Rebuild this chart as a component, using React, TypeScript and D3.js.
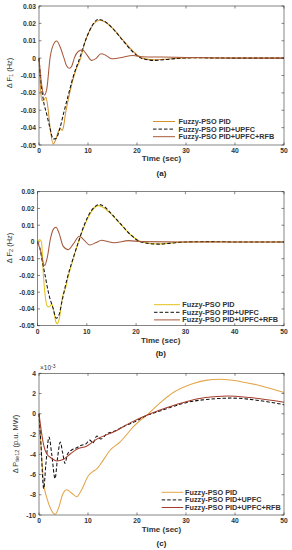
import React from 'react';
import * as d3 from 'd3';

type Pt = [number, number];

// time axis and tick labels
const xTicks = [0, 10, 20, 30, 40, 50];
const yTicksF = [0.03, 0.02, 0.01, 0, -0.01, -0.02, -0.03, -0.04, -0.05];
const yTicksP = [4, 2, 0, -2, -4, -6, -8, -10];
const legendNames = ['Fuzzy-PSO PID', 'Fuzzy-PSO PID+UPFC', 'Fuzzy-PSO PID+UPFC+RFB'];

// (a) delta F1 (Hz)
const pidA: Pt[] = [[0, 0], [0.25, -0.014], [0.55, -0.0244], [0.9, -0.0245], [1.4, -0.0225], [1.8, -0.028], [2.3, -0.041], [2.9, -0.0494], [3.4, -0.047], [3.9, -0.0425], [4.3, -0.0405], [4.7, -0.0415], [5.0, -0.0395], [5.4, -0.032], [6.0, -0.0235], [6.7, -0.0148], [7.5, -0.007], [8.5, 0], [9.3, 0.0085], [10.2, 0.015], [11.2, 0.0198], [12.4, 0.0218], [13.5, 0.0208], [15, 0.0172], [17, 0.0108], [19, 0.0045], [21, 0], [23.3, -0.001], [26, -0.0006], [28.5, 0], [32, 0.0002], [40, 0], [50, 0]];
const upfcA: Pt[] = [[0, 0], [0.3, -0.011], [0.9, -0.0244], [1.55, -0.032], [2.2, -0.0398], [2.9, -0.0465], [3.5, -0.0462], [4.2, -0.041], [5.0, -0.032], [6.0, -0.021], [7.0, -0.0105], [8.3, 0], [9.6, 0.011], [10.8, 0.0185], [12.1, 0.0223], [13.2, 0.0215], [15, 0.0172], [17, 0.0105], [19, 0.004], [21, -0.0002], [23.5, -0.0013], [26, -0.0008], [28.5, -0.0001], [32, 0.0002], [40, 0], [50, 0]];
const rfbA: Pt[] = [[0, 0], [0.4, -0.012], [1.1, -0.0212], [1.6, -0.0175], [2.25, 0], [2.9, 0.0075], [3.6, 0.0098], [4.3, 0.0065], [5.1, 0], [5.6, -0.0042], [6.2, -0.0058], [6.7, -0.0045], [7.2, 0], [8.0, 0.0038], [8.85, 0.0048], [9.7, 0.0022], [10.75, -0.0013], [11.6, -0.0003], [12.65, 0.0025], [13.6, 0.0017], [14.8, -0.0004], [16.5, 0.0002], [19.2, 0.0015], [21, 0.0008], [25, 0.0006], [30, 0.0004], [38, 0.0001], [50, 0]];

// (b) delta F2 (Hz)
const pidB: Pt[] = [[0, 0], [0.45, 0.0014], [0.8, 0], [1.2, -0.02], [1.6, -0.033], [2.0, -0.0384], [2.4, -0.0388], [2.9, -0.037], [3.3, -0.0415], [3.7, -0.0475], [4.0, -0.0488], [4.4, -0.046], [5.1, -0.0324], [5.6, -0.0285], [6.3, -0.02], [7.3, -0.0095], [8.3, 0], [9.6, 0.0103], [10.8, 0.0175], [12.3, 0.0217], [13.5, 0.0203], [15, 0.0165], [17, 0.0102], [19, 0.004], [21.1, 0], [24.5, -0.0012], [27, -0.0006], [30, 0], [35, 0.0002], [40, 0], [50, 0]];
const upfcB: Pt[] = [[0, 0], [0.5, -0.004], [1.0, -0.012], [1.45, -0.0185], [2.2, -0.03], [3.2, -0.04], [3.8, -0.0455], [4.3, -0.044], [5.0, -0.035], [6.0, -0.022], [7.2, -0.01], [8.3, 0], [9.6, 0.011], [11, 0.019], [12.6, 0.0223], [13.8, 0.0205], [15, 0.0168], [17, 0.0103], [19, 0.004], [21, 0], [24.5, -0.0013], [27, -0.0007], [30, 0], [35, 0.0002], [40, 0], [50, 0]];
const rfbB: Pt[] = [[0, 0], [0.5, -0.004], [1.45, -0.0141], [2.0, -0.009], [2.6, 0.0015], [3.2, 0.0075], [3.75, 0.0088], [4.4, 0.005], [5.2, -0.0025], [6.25, -0.0046], [7.2, -0.0015], [8.5, 0.0034], [9.4, 0.0012], [10.6, -0.0018], [11.8, -0.0005], [13, 0.001], [14.2, 0.0003], [15.5, -0.0005], [18.5, 0.0008], [21, 0.0002], [30, 0], [50, 0]];

// (c) delta Ptie12 (x1e-3 p.u. MW)
const pidC: Pt[] = [[0, 0], [0.5, -4.0], [1.0, -7.0], [1.6, -8.3], [2.4, -9.4], [3.3, -9.93], [4.0, -9.3], [4.8, -8.0], [5.65, -7.5], [6.6, -7.8], [7.7, -8.2], [8.7, -7.5], [10.1, -6.1], [11.0, -5.7], [11.8, -5.45], [12.8, -4.8], [14.5, -3.6], [16.5, -2.8], [17.8, -2.1], [19.2, -1.3], [20.8, -0.6], [22.3, 0], [25, 1.2], [27.4, 2.1], [31.5, 3.0], [34, 3.3], [37, 3.42], [41, 3.2], [45, 2.8], [50, 2.1]];
const upfcC: Pt[] = [[0, 0], [0.4, -3.0], [0.95, -7.4], [1.4, -5.0], [2.05, -2.3], [2.6, -4.0], [3.27, -6.4], [3.8, -4.3], [4.35, -2.8], [4.8, -3.8], [5.3, -4.9], [5.8, -4.0], [6.6, -3.6], [7.5, -3.4], [8.7, -3.1], [9.5, -3.0], [10.4, -2.6], [11.0, -2.9], [11.8, -2.2], [12.6, -2.5], [13.8, -2.0], [15.5, -1.7], [17.5, -1.2], [19.5, -0.8], [22, -0.15], [23, 0], [26, 0.5], [30, 1.1], [35, 1.45], [39.5, 1.55], [45, 1.3], [50, 0.9]];
const rfbC: Pt[] = [[0, 0], [0.5, -1.8], [1.0, -3.2], [1.57, -3.95], [2.6, -4.4], [3.6, -4.67], [5.0, -4.5], [6.3, -4.0], [7.7, -3.5], [9.7, -3.2], [11.8, -2.5], [15.2, -1.8], [18.6, -0.9], [22.7, 0], [26, 0.6], [30, 1.2], [34, 1.6], [38.5, 1.75], [43, 1.6], [50, 1.15]];

const FONT = '"Liberation Sans", Arial, sans-serif';
const AX = '#333';

const Panel = (props: any) => {
  const { left, right, top, bottom, yDomain, yTicks, fmt, series, yLabel, yLabelPos, caption, xLabY, timeY, capY, leg, exp } = props;
  const x = d3.scaleLinear().domain([0, 50]).range([left, right]);
  const y = d3.scaleLinear().domain(yDomain).range([bottom, top]);
  const line = d3.line<Pt>().x(d => x(d[0])).y(d => y(d[1])).curve(d3.curveMonotoneX);
  const tl = 2.5;
  return (
    <g fontFamily={FONT}>
      <rect x={left} y={top} width={right - left} height={bottom - top} fill="#fff" stroke="none" />
      <defs>
        <clipPath id={'clip' + caption}>
          <rect x={left} y={top - 1} width={right - left} height={bottom - top + 2} />
        </clipPath>
      </defs>
      <g clipPath={`url(#clip${caption})`}>
        {series.map((s: any, i: number) => (
          <path key={i} d={line(s.data) || ''} fill="none" stroke={s.color} strokeWidth={1.05} strokeDasharray={s.dash || undefined} />
        ))}
      </g>
      <rect x={left} y={top} width={right - left} height={bottom - top} fill="none" stroke={AX} strokeWidth={0.6} />
      {xTicks.map(t => (
        <g key={'x' + t}>
          <line x1={x(t)} x2={x(t)} y1={bottom} y2={bottom - tl} stroke={AX} strokeWidth={0.6} />
          <line x1={x(t)} x2={x(t)} y1={top} y2={top + tl} stroke={AX} strokeWidth={0.6} />
          <text x={x(t)} y={xLabY} textAnchor="middle" dominantBaseline="central" fontSize={6.7} fontWeight="bold" fill={AX}>{t}</text>
        </g>
      ))}
      {yTicks.map((t: number) => (
        <g key={'y' + t}>
          <line x1={left} x2={left + tl} y1={y(t)} y2={y(t)} stroke={AX} strokeWidth={0.6} />
          <line x1={right} x2={right - tl} y1={y(t)} y2={y(t)} stroke={AX} strokeWidth={0.6} />
          <text x={left - 3} y={y(t)} textAnchor="end" dominantBaseline="central" fontSize={6.7} fontWeight="bold" fill={AX}>{fmt(t)}</text>
        </g>
      ))}
      {exp && (
        <text x={left + 1} y={top - 3} fontSize={6.5} fill={AX}>
          ×10<tspan fontSize={5} dy={-2}>-3</tspan>
        </text>
      )}
      <text transform={`translate(${yLabelPos[0]},${yLabelPos[1]}) rotate(-90)`} textAnchor="middle" dominantBaseline="central" fontSize={7.5} fill={AX}>
        {yLabel[0]}<tspan fontSize={5.5} dy={2}>{yLabel[1]}</tspan><tspan dy={-2}>{yLabel[2]}</tspan>
      </text>
      <text x={(left + right) / 2} y={timeY} textAnchor="middle" dominantBaseline="central" fontSize={8} fontWeight="bold" fill={AX}>Time (sec)</text>
      <text x={(left + right) / 2} y={capY} textAnchor="middle" dominantBaseline="central" fontSize={8} fontWeight="bold" fill="#222">{caption}</text>
      {series.map((s: any, i: number) => (
        <g key={'l' + i}>
          <line x1={leg.x0} x2={leg.x1} y1={leg.y0 + i * 7.6} y2={leg.y0 + i * 7.6} stroke={s.color} strokeWidth={1} strokeDasharray={s.dash || undefined} />
          <text x={leg.tx} y={leg.y0 + i * 7.6} dominantBaseline="central" fontSize={7.3} fontWeight="bold" fill={AX}>{legendNames[i]}</text>
        </g>
      ))}
    </g>
  );
};

const fmtF = (v: number) => (v === 0 ? '0' : d3.format('.2f')(v).replace('−', '-'));
const fmtP = (v: number) => String(v);

export default function App() {
  return (
    <svg width={292} height={550} style={{ position: 'absolute', left: 0, top: 0, background: '#fff' }}>
      <Panel
        left={39} right={284} top={6} bottom={145}
        yDomain={[-0.05, 0.03]} yTicks={yTicksF} fmt={fmtF}
        series={[
          { data: pidA, color: '#d4922e' },
          { data: upfcA, color: '#111', dash: '3.5,2' },
          { data: rfbA, color: '#a8593a' },
        ]}
        yLabel={['Δ F', '1', ' (Hz)']} yLabelPos={[9, 73]}
        caption="(a)" xLabY={150.5} timeY={158.5} capY={173}
        leg={{ x0: 153, x1: 175, tx: 178.5, y0: 121.5 }}
      />
      <Panel
        left={37.5} right={284} top={191.7} bottom={325.7}
        yDomain={[-0.05, 0.03]} yTicks={yTicksF} fmt={fmtF}
        series={[
          { data: pidB, color: '#e2c01c' },
          { data: upfcB, color: '#111', dash: '3.5,2' },
          { data: rfbB, color: '#a55a3f' },
        ]}
        yLabel={['Δ F', '2', ' (Hz)']} yLabelPos={[9, 248]}
        caption="(b)" xLabY={331} timeY={340} capY={353.5}
        leg={{ x0: 154, x1: 180, tx: 182.3, y0: 304.7 }}
      />
      <Panel
        left={39} right={284} top={373.3} bottom={515}
        yDomain={[-10, 4]} yTicks={yTicksP} fmt={fmtP}
        series={[
          { data: pidC, color: '#e3a54a' },
          { data: upfcC, color: '#111', dash: '3.5,2' },
          { data: rfbC, color: '#a33d2a' },
        ]}
        yLabel={['Δ P', 'tie12', ' (p.u. MW)']} yLabelPos={[15, 444]}
        caption="(c)" xLabY={520.5} timeY={529.5} capY={543}
        leg={{ x0: 161.7, x1: 183.3, tx: 185, y0: 492.3 }}
        exp
      />
    </svg>
  );
}
